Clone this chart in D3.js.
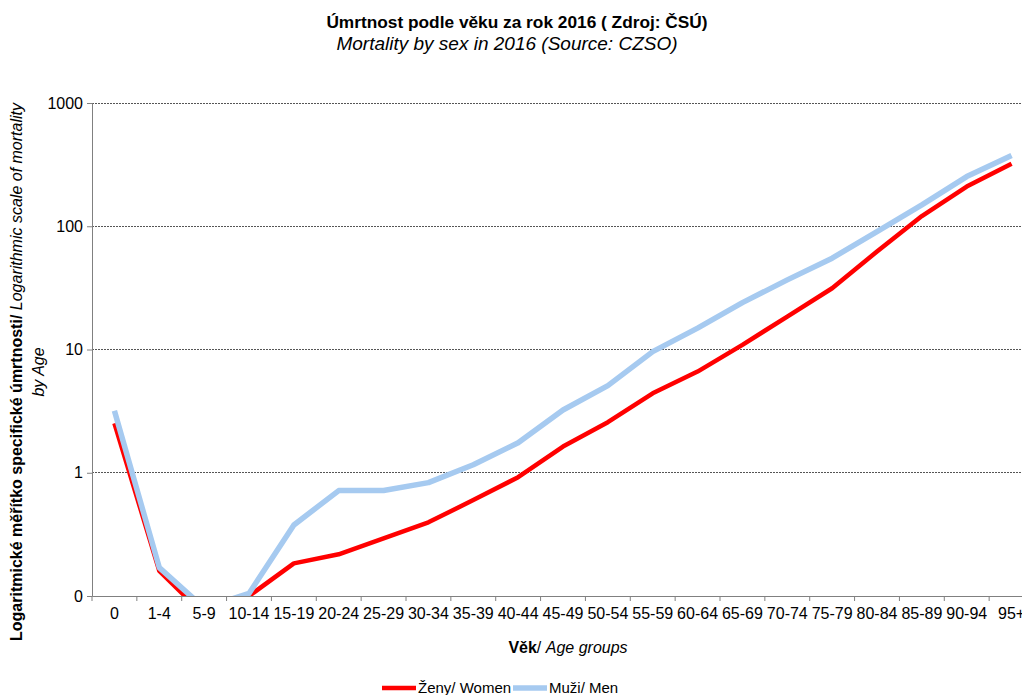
<!DOCTYPE html>
<html>
<head>
<meta charset="utf-8">
<script src="https://cdn.jsdelivr.net/npm/d3@7"></script>
<style>
  body { margin: 0; background: #fff; }
  svg { display: block; font-family: "Liberation Sans", Arial, sans-serif; }
</style>
</head>
<body>
<div id="container"></div>
<script>
/* DATA */
const ageGroups = ["0", "1-4", "5-9", "10-14", "15-19", "20-24", "25-29", "30-34", "35-39", "40-44",
  "45-49", "50-54", "55-59", "60-64", "65-69", "70-74", "75-79", "80-84", "85-89", "90-94", "95+"];
const women = [2.52, 0.16, 0.07, 0.1, 0.184, 0.218, 0.294, 0.396, 0.60, 0.92,
  1.63, 2.57, 4.41, 6.62, 10.9, 18.5, 31.4, 62.4, 121, 210, 321];
const men = [3.18, 0.17, 0.08, 0.105, 0.377, 0.717, 0.717, 0.831, 1.16, 1.75,
  3.23, 5.09, 9.61, 14.9, 24.0, 36.7, 55.1, 90.6, 149, 253, 375];
const yTicks = [0.1, 1, 10, 100, 1000];
const seriesNames = ["Ženy/ Women", "Muži/ Men"];

/* CONSTANTS */
const W = 1022, H = 695;
const plot = { left: 92, right: 1034, top: 103, bottom: 596 };
const colors = ["#ff0000", "#a6caf0"];
const widths = [4.5, 5.5];

const svg = d3.select("#container")
  .append("svg")
  .attr("width", W)
  .attr("height", H);

const x = d3.scaleBand()
  .domain(ageGroups)
  .range([plot.left, plot.right]);

const y = d3.scaleLog()
  .domain([0.1, 1000])
  .range([plot.bottom, plot.top]);

// gridlines
svg.append("g")
  .selectAll("line")
  .data(yTicks.filter(d => d > 0.1))
  .join("line")
  .attr("x1", plot.left)
  .attr("x2", W)
  .attr("y1", d => y(d))
  .attr("y2", d => y(d))
  .attr("stroke", "#555")
  .attr("stroke-width", 1)
  .attr("stroke-dasharray", "1.5,1.5")
  .attr("shape-rendering", "crispEdges");

// clip for the lines
svg.append("clipPath")
  .attr("id", "clip")
  .append("rect")
  .attr("x", plot.left)
  .attr("y", plot.top - 10)
  .attr("width", plot.right - plot.left)
  .attr("height", plot.bottom - plot.top + 10);

const line = d3.line()
  .x((d, i) => x(ageGroups[i]) + x.bandwidth() / 2)
  .y(d => y(d));

svg.append("g")
  .attr("clip-path", "url(#clip)")
  .selectAll("path")
  .data([women, men])
  .join("path")
  .attr("d", line)
  .attr("fill", "none")
  .attr("stroke", (d, i) => colors[i])
  .attr("stroke-width", (d, i) => widths[i])
  .attr("stroke-linejoin", "round");

// y axis
const yAxis = svg.append("g")
  .attr("transform", `translate(${plot.left},0)`)
  .call(d3.axisLeft(y).tickValues(yTicks).tickSize(5).tickPadding(4)
    .tickFormat(d => d < 1 ? "0" : d3.format("d")(d)));
yAxis.select(".domain").attr("stroke", "#808080");
yAxis.selectAll(".tick line").attr("stroke", "#808080");
yAxis.selectAll("text").attr("font-size", 16).attr("fill", "#000");

// x axis
const xAxis = svg.append("g")
  .attr("transform", `translate(0,${plot.bottom})`)
  .call(d3.axisBottom(x).tickSize(0).tickPadding(12));
xAxis.select(".domain").attr("stroke", "#808080");
xAxis.selectAll("text").attr("font-size", 16).attr("fill", "#000");
xAxis.selectAll(".sep")
  .data(ageGroups)
  .join("line")
  .attr("class", "sep")
  .attr("x1", d => x(d))
  .attr("x2", d => x(d))
  .attr("y1", 0)
  .attr("y2", 5)
  .attr("stroke", "#808080");

// titles
svg.append("text")
  .attr("x", 517)
  .attr("y", 28)
  .attr("text-anchor", "middle")
  .attr("font-size", 17.3)
  .attr("font-weight", "bold")
  .text("Úmrtnost podle věku za rok 2016 ( Zdroj: ČSÚ)");

svg.append("text")
  .attr("x", 507)
  .attr("y", 50)
  .attr("text-anchor", "middle")
  .attr("font-size", 19)
  .attr("font-style", "italic")
  .text("Mortality by sex in 2016 (Source: CZSO)");

// x axis title
const xt = svg.append("text")
  .attr("x", 568)
  .attr("y", 653)
  .attr("text-anchor", "middle")
  .attr("font-size", 16);
xt.append("tspan").attr("font-weight", "bold").text("Věk");
xt.append("tspan").text("/ ");
xt.append("tspan").attr("font-style", "italic").text("Age groups");

// y axis title
const yt = svg.append("text")
  .attr("transform", "translate(22,372) rotate(-90)")
  .attr("text-anchor", "middle")
  .attr("font-size", 16);
yt.append("tspan").attr("font-weight", "bold").text("Logaritmické měřítko specifické úmrtnosti/");
yt.append("tspan").attr("font-style", "italic").text(" Logarithmic scale of mortality");
svg.append("text")
  .attr("transform", "translate(44,372) rotate(-90)")
  .attr("text-anchor", "middle")
  .attr("font-size", 16)
  .attr("font-style", "italic")
  .text("by Age");

// legend
const legend = svg.append("g").attr("transform", "translate(382,688)");
const items = [{ name: seriesNames[0], x: 0 }, { name: seriesNames[1], x: 131 }];
items.forEach((it, i) => {
  legend.append("line")
    .attr("x1", it.x).attr("x2", it.x + 34)
    .attr("y1", 0).attr("y2", 0)
    .attr("stroke", colors[i])
    .attr("stroke-width", widths[i]);
  legend.append("text")
    .attr("x", it.x + 36)
    .attr("y", 5)
    .attr("font-size", 15)
    .text(it.name);
});
</script>
</body>
</html>
